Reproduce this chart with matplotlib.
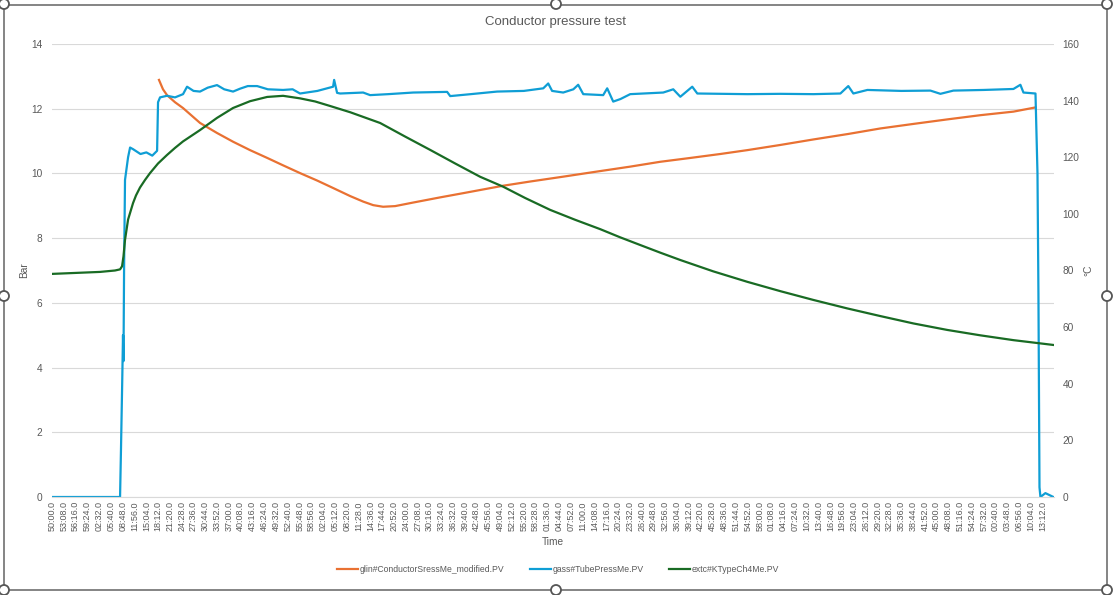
import matplotlib.pyplot as plt
from matplotlib.patches import Rectangle, Circle

plt.rcParams['font.family'] = ['Liberation Sans', 'DejaVu Sans']

# x positions are in category-label units (0 = first label "50:00.0", 1 label = 3:08)
time_labels = [
    '50:00.0', '53:08.0', '56:16.0', '59:24.0', '02:32.0', '05:40.0', '08:48.0', '11:56.0',
    '15:04.0', '18:12.0', '21:20.0', '24:28.0', '27:36.0', '30:44.0', '33:52.0', '37:00.0',
    '40:08.0', '43:16.0', '46:24.0', '49:32.0', '52:40.0', '55:48.0', '58:56.0', '02:04.0',
    '05:12.0', '08:20.0', '11:28.0', '14:36.0', '17:44.0', '20:52.0', '24:00.0', '27:08.0',
    '30:16.0', '33:24.0', '36:32.0', '39:40.0', '42:48.0', '45:56.0', '49:04.0', '52:12.0',
    '55:20.0', '58:28.0', '01:36.0', '04:44.0', '07:52.0', '11:00.0', '14:08.0', '17:16.0',
    '20:24.0', '23:32.0', '26:40.0', '29:48.0', '32:56.0', '36:04.0', '39:12.0', '42:20.0',
    '45:28.0', '48:36.0', '51:44.0', '54:52.0', '58:00.0', '01:08.0', '04:16.0', '07:24.0',
    '10:32.0', '13:40.0', '16:48.0', '19:56.0', '23:04.0', '26:12.0', '29:20.0', '32:28.0',
    '35:36.0', '38:44.0', '41:52.0', '45:00.0', '48:08.0', '51:16.0', '54:24.0', '57:32.0',
    '00:40.0', '03:48.0', '06:56.0', '10:04.0', '13:12.0',
]

# glin#ConductorSressMe_modified.PV  (Bar)
stress_x = [9.07, 9.41, 9.75, 10.43, 11.11, 12.55, 13.99, 15.35, 16.79, 18.24, 19.59,
            21.03, 22.48, 23.83, 25.28, 26.38, 27.23, 28.07, 29.09, 30.62, 32.91, 34.86,
            38.25, 40.54, 43.34, 46.06, 49.02, 51.57, 53.94, 56.65, 58.95, 61.75, 64.55,
            67.51, 70.23, 73.03, 75.91, 78.71, 81.51, 83.38]
stress_bar = [12.89, 12.6, 12.42, 12.2, 12.02, 11.56, 11.25, 10.98, 10.72, 10.48, 10.25,
              10.01, 9.78, 9.55, 9.3, 9.13, 9.02, 8.97, 8.99, 9.1, 9.26, 9.39,
              9.62, 9.75, 9.9, 10.05, 10.21, 10.36, 10.47, 10.6, 10.72, 10.88, 11.05,
              11.22, 11.39, 11.53, 11.67, 11.8, 11.91, 12.04]

# gass#TubePressMe.PV  (Bar)
tube_x = [0, 5.77, 5.85, 5.95, 6.02, 6.06, 6.11, 6.19, 6.45, 6.62, 6.87, 7.5, 8.0, 8.5,
          8.91, 8.99, 9.16, 9.75, 10.43, 11.11, 11.45, 12.0, 12.55, 13.2, 13.99, 14.6,
          15.35, 15.95, 16.6, 17.39, 18.3, 19.59, 20.4, 21.03, 22.5, 23.83, 23.92, 24.17,
          24.43, 26.38, 26.97, 28.5, 30.62, 33.5, 33.76, 35.5, 37.74, 40.0, 41.65, 42.07,
          42.4, 43.34, 44.2, 44.61, 45.04, 46.73, 47.07, 47.58, 48.2, 49.02, 51.82, 52.67,
          53.27, 54.28, 54.71, 58.95, 61.75, 64.55, 66.84, 67.51, 67.94, 69.13, 72.0,
          74.47, 75.32, 76.42, 79.0, 81.51, 82.10, 82.36, 83.38, 83.55, 83.63, 83.72,
          83.80, 84.22, 84.90]
tube_bar = [0, 0, 1.5, 3.5, 5.0, 4.2, 7.0, 9.8, 10.5, 10.8, 10.75, 10.6, 10.65, 10.55,
            10.7, 12.2, 12.35, 12.4, 12.35, 12.45, 12.68, 12.55, 12.53, 12.65, 12.73, 12.6,
            12.53, 12.62, 12.7, 12.7, 12.6, 12.58, 12.6, 12.47, 12.55, 12.68, 12.89, 12.49,
            12.47, 12.5, 12.42, 12.45, 12.5, 12.52, 12.39, 12.45, 12.53, 12.55, 12.63, 12.78,
            12.55, 12.5, 12.6, 12.74, 12.45, 12.42, 12.63, 12.22, 12.3, 12.45, 12.5, 12.6,
            12.37, 12.68, 12.47, 12.45, 12.46, 12.45, 12.47, 12.7, 12.47, 12.58, 12.55,
            12.56, 12.46, 12.56, 12.58, 12.61, 12.74, 12.5, 12.47, 10.0, 6.3, 0.3,
            0.0, 0.12, 0.0]

# extc#KTypeCh4Me.PV  (degC)
temp_x = [0, 4.07, 5.34, 5.77, 5.94, 6.06, 6.19, 6.45, 6.87, 7.12, 7.46, 7.89, 8.31, 8.99,
          9.75, 10.43, 11.11, 12.55, 13.99, 15.35, 16.79, 18.24, 19.59, 21.03, 22.31,
          23.58, 25.28, 26.55, 27.82, 29.94, 32.06, 34.18, 36.30, 38.25, 40.12, 42.24,
          44.36, 46.48, 48.18, 49.87, 51.57, 53.27, 56.06, 58.95, 61.75, 64.55, 67.43,
          70.23, 73.03, 75.91, 78.71, 81.51, 84.90]
temp_c = [78.8, 79.5, 80.0, 80.4, 81.5, 85.0, 90.8, 98.0, 103.8, 106.5, 109.3, 112.0,
          114.4, 117.8, 120.8, 123.3, 125.6, 129.6, 133.9, 137.4, 139.8, 141.3, 141.7,
          140.8, 139.7, 138.1, 135.9, 134.0, 132.1, 127.3, 122.6, 117.8, 113.1, 109.6,
          105.6, 101.4, 97.9, 94.6, 91.7, 89.0, 86.3, 83.7, 79.7, 76.0, 72.7, 69.6, 66.6,
          63.9, 61.3, 59.0, 57.1, 55.4, 53.7]

txt = '#595959'
grid = '#D9D9D9'

fig = plt.figure(figsize=(11.16, 5.95), dpi=100)
ax = fig.add_axes([52 / 1116, 98 / 595, 1002 / 1116, 453 / 595])
ax2 = ax.twinx()

l1, = ax.plot(stress_x, stress_bar, color='#E97132', lw=1.6)
l2, = ax.plot(tube_x, tube_bar, color='#0F9ED5', lw=1.6)
l3, = ax2.plot(temp_x, temp_c, color='#196B24', lw=1.6)

ax.set_xlim(0, 84.95)
ax.set_ylim(0, 14)
ax2.set_ylim(0, 160)
ax.set_yticks(range(0, 15, 2))
ax2.set_yticks(range(0, 161, 20))
ax.set_xticks(range(len(time_labels)))
ax.set_xticklabels(time_labels, rotation=90)
ax.grid(axis='y', color=grid, lw=0.8)
ax.set_axisbelow(True)

for a in (ax, ax2):
    for s in a.spines.values():
        s.set_visible(False)
    a.tick_params(length=0, labelsize=7.3, labelcolor=txt)
ax.spines['bottom'].set_visible(True)
ax.spines['bottom'].set_color(grid)
ax.tick_params(axis='y', pad=7)
ax.tick_params(axis='x', pad=3, labelsize=6.5)
ax2.tick_params(axis='y', pad=6)

ax.set_ylabel('Bar', fontsize=7.3, color=txt)
ax.yaxis.set_label_coords(-0.023, 0.5)
ax2.set_ylabel('°C', fontsize=7.3, color=txt, rotation=90)
ax2.yaxis.set_label_coords(1.029, 0.5)
ax.set_xlabel('Time', fontsize=7.3, color=txt)
ax.xaxis.set_label_coords(0.5, -0.088)

fig.text(0.4982, 1 - 22 / 595, 'Conductor pressure test', ha='center', va='center',
         fontsize=9.5, color=txt)

fig.legend([l1, l2, l3],
           ['glin#ConductorSressMe_modified.PV', 'gass#TubePressMe.PV', 'extc#KTypeCh4Me.PV'],
           loc='center', bbox_to_anchor=(0.5, 1 - 570 / 595), ncol=3, frameon=False,
           fontsize=6.2, labelcolor=txt, handlelength=2.4, handletextpad=0.2,
           columnspacing=3.0)

# chart-area frame with selection handles
fig.patches.append(Rectangle((4 / 1116, 5 / 595), 1103 / 1116, 585 / 595,
                             transform=fig.transFigure, fill=False,
                             edgecolor='#6f6f6f', lw=1.2))
for hx, hy in [(4, 4), (556, 4), (1107, 4), (4, 296), (1107, 296),
               (4, 590), (556, 590), (1107, 590)]:
    fig.patches.append(Circle((hx, 595 - hy), 5, transform=None,
                              facecolor='white', edgecolor='#555555', lw=1.3, zorder=10))

fig.savefig('out.png', dpi=100)
